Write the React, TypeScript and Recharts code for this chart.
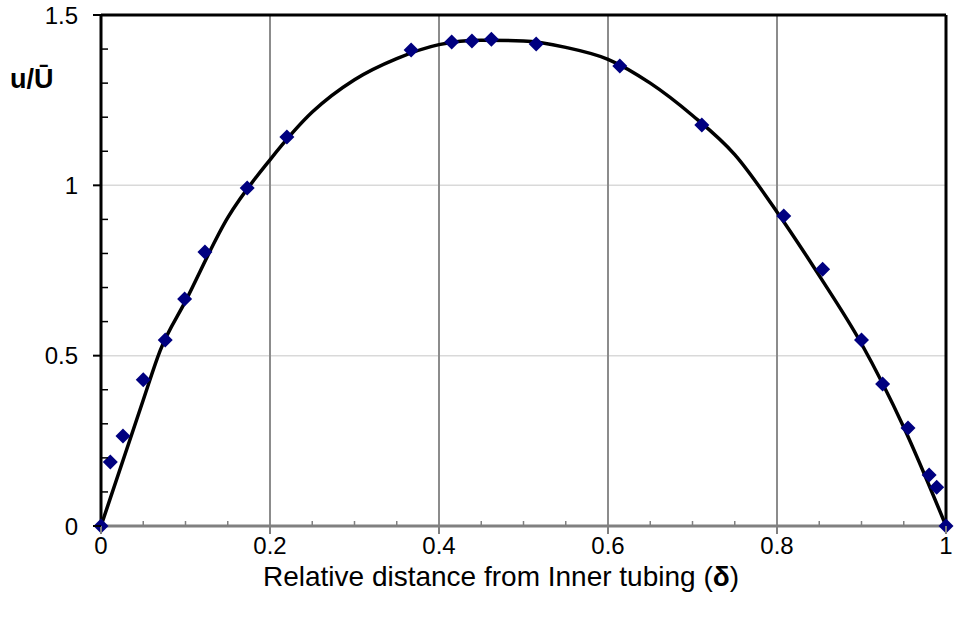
import {
  ComposedChart,
  Line,
  Scatter,
  XAxis,
  YAxis,
  ReferenceLine,
  Label,
} from "recharts";

// measured velocity profile, u/Ū vs relative distance δ
const measuredDelta = [0, 0.011, 0.026, 0.05, 0.076, 0.099, 0.123, 0.173, 0.22, 0.367, 0.415, 0.439, 0.462, 0.515, 0.614, 0.711, 0.808, 0.854, 0.9, 0.925, 0.955, 0.98, 0.989, 1];
const measuredU = [0, 0.188, 0.264, 0.429, 0.546, 0.666, 0.804, 0.992, 1.142, 1.397, 1.421, 1.424, 1.429, 1.415, 1.35, 1.177, 0.91, 0.754, 0.546, 0.417, 0.288, 0.15, 0.114, 0];

// fitted curve
const fitDelta = [0, 0.05, 0.07, 0.1, 0.15, 0.2, 0.25, 0.3, 0.35, 0.4, 0.45, 0.5, 0.55, 0.6, 0.65, 0.7, 0.75, 0.8, 0.85, 0.9, 0.95, 1];
const fitU = [0, 0.37, 0.515, 0.66, 0.905, 1.075, 1.215, 1.31, 1.372, 1.413, 1.426, 1.424, 1.405, 1.37, 1.3, 1.205, 1.09, 0.922, 0.735, 0.535, 0.29, 0];

const xTicks = [0, 0.2, 0.4, 0.6, 0.8, 1];
const xMinorTicks = [0, 0.05, 0.1, 0.15, 0.2, 0.25, 0.3, 0.35, 0.4, 0.45, 0.5, 0.55, 0.6, 0.65, 0.7, 0.75, 0.8, 0.85, 0.9, 0.95, 1];
const yTicks = [0, 0.5, 1, 1.5];
const yMinorTicks = [0, 0.1, 0.2, 0.3, 0.4, 0.5, 0.6, 0.7, 0.8, 0.9, 1, 1.1, 1.2, 1.3, 1.4, 1.5];

const FONT = "'Liberation Sans', Arial, sans-serif";

const measured = measuredDelta.map((x, i) => ({ x, y: measuredU[i] }));
const fit = fitDelta.map((x, i) => ({ x, y: fitU[i] }));

function XTick({ x, y, payload }: any) {
  const v = payload.value;
  if (xTicks.includes(v)) {
    return (
      <g>
        <line x1={x} y1={y} x2={x} y2={y + 8} stroke="#808080" strokeWidth={2} />
        <text x={x} y={y + 28} textAnchor="middle" fontSize={24} fontFamily={FONT} fill="#000">
          {v}
        </text>
      </g>
    );
  }
  return <line x1={x} y1={y} x2={x} y2={y - 5} stroke="#808080" strokeWidth={1.5} />;
}

function YTick({ x, y, payload }: any) {
  const v = payload.value;
  if (yTicks.includes(v)) {
    return (
      <g>
        <line x1={x - 8} y1={y} x2={x} y2={y} stroke="#000" strokeWidth={2} />
        <text x={x - 23} y={y + 8.5} textAnchor="end" fontSize={24} fontFamily={FONT} fill="#000">
          {v}
        </text>
      </g>
    );
  }
  return <line x1={x} y1={y} x2={x + 7} y2={y} stroke="#000" strokeWidth={1.5} />;
}

function Diamond({ cx, cy }: any) {
  const r = 7.5;
  return <polygon points={`${cx},${cy - r} ${cx + r},${cy} ${cx},${cy + r} ${cx - r},${cy}`} fill="#000080" />;
}

export default function App() {
  return (
    <div style={{ width: 956, height: 617, background: "#fff" }}>
      <style>{"body{margin:0}"}</style>
      <ComposedChart width={956} height={617} margin={{ top: 15, right: 10, bottom: 0, left: 0 }}>
        <XAxis
          dataKey="x"
          type="number"
          domain={[0, 1]}
          ticks={xMinorTicks}
          interval={0}
          height={91}
          tickSize={0}
          tickMargin={0}
          tickLine={false}
          tick={<XTick />}
          axisLine={{ stroke: "#808080", strokeWidth: 3 }}
        >
          <Label
            content={() => (
              <text x={501} y={586} textAnchor="middle" fontSize={28} fontFamily={FONT} fill="#000">
                Relative distance from Inner tubing (<tspan fontWeight="bold">δ</tspan>)
              </text>
            )}
          />
        </XAxis>
        <YAxis
          type="number"
          domain={[0, 1.5]}
          ticks={yMinorTicks}
          interval={0}
          width={101}
          tickSize={0}
          tickMargin={0}
          tickLine={false}
          tick={<YTick />}
          axisLine={{ stroke: "#000", strokeWidth: 3 }}
        >
          <Label
            content={() => (
              <text x={10} y={88} fontSize={27} fontWeight="bold" fontFamily={FONT} fill="#000">
                u/Ū
              </text>
            )}
          />
        </YAxis>
        {[0.5, 1].map((v) => (
          <ReferenceLine key={"h" + v} y={v} stroke="#d9d9d9" strokeWidth={1.5} />
        ))}
        {[0.2, 0.4, 0.6, 0.8].map((v) => (
          <ReferenceLine key={"v" + v} x={v} stroke="#8c8c8c" strokeWidth={2} />
        ))}
        <ReferenceLine y={1.5} stroke="#000" strokeWidth={3} />
        <ReferenceLine x={1} stroke="#000" strokeWidth={3} />
        <Line
          data={fit}
          dataKey="y"
          type="monotone"
          stroke="#000"
          strokeWidth={3.5}
          dot={false}
          isAnimationActive={false}
        />
        <Scatter data={measured} dataKey="y" shape={<Diamond />} isAnimationActive={false} />
      </ComposedChart>
    </div>
  );
}
